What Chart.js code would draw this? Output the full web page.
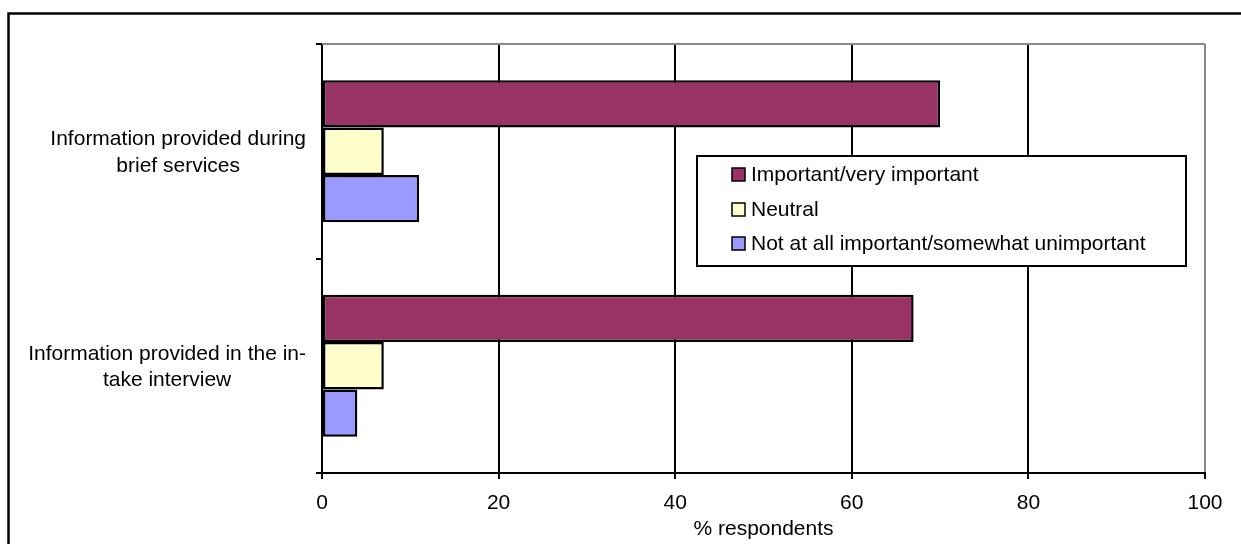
<!DOCTYPE html>
<html>
<head>
<meta charset="utf-8">
<script src="https://cdn.jsdelivr.net/npm/chart.js@4/dist/chart.umd.min.js"></script>
<style>
  html, body { margin: 0; padding: 0; background: #fff; }
  #wrap { position: relative; width: 1241px; height: 544px; }
</style>
</head>
<body>
<div id="wrap"><canvas id="c" width="1241" height="544"></canvas></div>
<script>
// Survey items (each split into display lines)
const categories = [
  ['Information provided during', 'brief services'],
  ['Information provided in the in-', 'take interview']
];
const seriesNames = [
  'Important/very important',
  'Neutral',
  'Not at all important/somewhat unimportant'
];
// % respondents per item
const importantValues = [70, 67];
const neutralValues = [7, 7];
const unimportantValues = [11, 4];
const xTicks = [0, 20, 40, 60, 80, 100];

const seriesColors = ['#993366', '#FFFFCC', '#9999FF'];
const FONT = 'Arial, "Liberation Sans", sans-serif';
const FS = 21;

// frame around the whole figure, plus the grey top edge of the plot area
const framePlugin = {
  id: 'frame',
  beforeDraw(chart) {
    const ctx = chart.ctx;
    ctx.save();
    ctx.fillStyle = '#fff';
    ctx.fillRect(0, 0, chart.width, chart.height);
    ctx.strokeStyle = '#000';
    ctx.lineWidth = 2.5;
    ctx.beginPath();
    ctx.moveTo(8.5, chart.height + 5);
    ctx.lineTo(8.5, 13.5);
    ctx.lineTo(chart.width + 5, 13.5);
    ctx.stroke();
    ctx.restore();
  },
  beforeDatasetsDraw(chart) {
    const a = chart.chartArea, ctx = chart.ctx;
    ctx.save();
    ctx.strokeStyle = '#888';
    ctx.lineWidth = 2;
    ctx.beginPath();
    ctx.moveTo(a.left, a.top);
    ctx.lineTo(a.right, a.top);
    ctx.stroke();
    ctx.restore();
  }
};

// category labels: each block right-aligned, its lines centred within the block
const categoryLabelPlugin = {
  id: 'categoryLabels',
  afterDraw(chart) {
    const scale = chart.scales.y, ctx = chart.ctx;
    const rightEdge = 306;
    const lineH = 26.5;
    ctx.save();
    ctx.font = FS + 'px ' + FONT;
    ctx.fillStyle = '#000';
    ctx.textAlign = 'center';
    ctx.textBaseline = 'middle';
    categories.forEach((lines, i) => {
      const w = Math.max(...lines.map(l => ctx.measureText(l).width));
      const cx = rightEdge - w / 2;
      const cy = scale.getPixelForValue(i) + 1.5;
      lines.forEach((l, j) => {
        const y = cy + (j - (lines.length - 1) / 2) * lineH;
        ctx.fillText(l, cx, y);
      });
    });
    ctx.restore();
  }
};

// boxed legend placed inside the plot area
const boxLegendPlugin = {
  id: 'boxLegend',
  afterDraw(chart) {
    const ctx = chart.ctx;
    const box = { x: 697, y: 156, w: 489, h: 110 };
    ctx.save();
    ctx.fillStyle = '#fff';
    ctx.fillRect(box.x, box.y, box.w, box.h);
    ctx.strokeStyle = '#000';
    ctx.lineWidth = 2;
    ctx.strokeRect(box.x, box.y, box.w, box.h);
    ctx.font = FS + 'px ' + FONT;
    ctx.textBaseline = 'middle';
    ctx.textAlign = 'left';
    const rowY = [174.5, 209.5, 243.5];
    chart.data.datasets.forEach((ds, i) => {
      const y = rowY[i];
      ctx.fillStyle = ds.backgroundColor;
      ctx.fillRect(732, y - 6.5, 13, 13);
      ctx.strokeStyle = '#000';
      ctx.lineWidth = 1.5;
      ctx.strokeRect(732, y - 6.5, 13, 13);
      ctx.fillStyle = '#000';
      ctx.fillText(ds.label, 751, y + 1);
    });
    ctx.restore();
  }
};

const datasetValues = [importantValues, neutralValues, unimportantValues];

new Chart(document.getElementById('c'), {
  type: 'bar',
  data: {
    labels: categories,
    datasets: seriesNames.map((name, i) => ({
      label: name,
      data: datasetValues[i],
      backgroundColor: seriesColors[i],
      borderColor: '#000',
      borderWidth: 2.5,
      borderSkipped: false,
      categoryPercentage: 0.662,
      barPercentage: 1.0
    }))
  },
  options: {
    indexAxis: 'y',
    responsive: false,
    animation: false,
    devicePixelRatio: 1,
    layout: { padding: { left: 0, top: 44, right: 36, bottom: 0 } },
    plugins: {
      legend: { display: false },
      tooltip: { enabled: false }
    },
    scales: {
      x: {
        min: 0,
        max: 100,
        afterBuildTicks(scale) { scale.ticks = xTicks.map(v => ({ value: v })); },
        afterFit(scale) { scale.height = 71; },
        border: { display: true, color: '#000', width: 2 },
        grid: {
          color: c => (c.tick && c.tick.value === 100 ? '#888' : '#000'),
          lineWidth: 2,
          tickColor: '#000',
          tickLength: 6,
          drawTicks: true
        },
        ticks: {
          color: '#000',
          font: { family: FONT, size: FS },
          padding: 12,
          maxRotation: 0
        },
        title: {
          display: true,
          text: '% respondents',
          color: '#000',
          font: { family: FONT, size: FS },
          padding: { top: 0, bottom: 2 }
        }
      },
      y: {
        afterFit(scale) { scale.width = 322; },
        border: { display: true, color: '#000', width: 2 },
        grid: {
          offset: true,
          drawOnChartArea: false,
          drawTicks: true,
          tickLength: 6,
          color: '#000',
          lineWidth: 2
        },
        ticks: { display: false }
      }
    }
  },
  plugins: [framePlugin, categoryLabelPlugin, boxLegendPlugin]
});
</script>
</body>
</html>
